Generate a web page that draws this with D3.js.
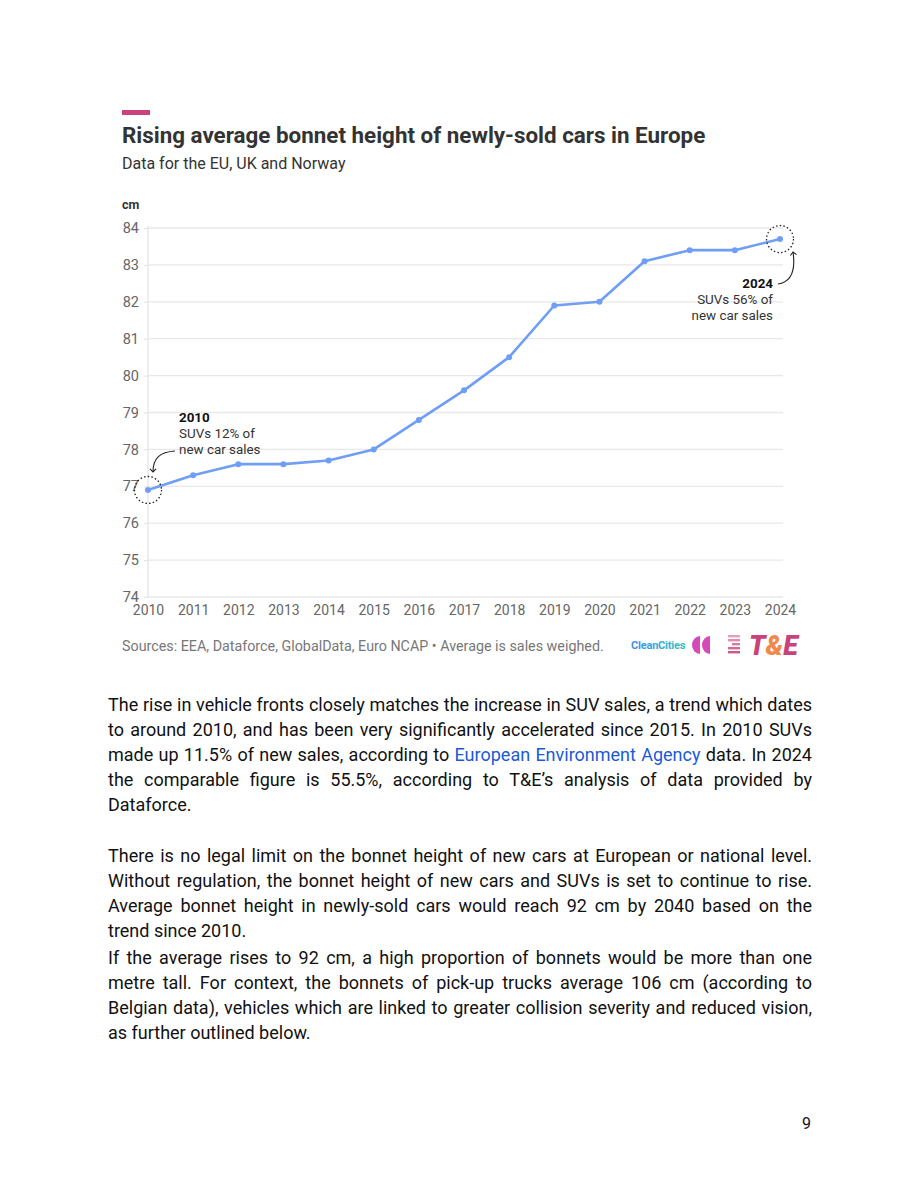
<!DOCTYPE html>
<html><head><meta charset="utf-8">
<script src="https://cdn.jsdelivr.net/npm/d3@7"></script>
<style>
html,body{margin:0;padding:0;background:#fff;}
body{width:920px;height:1191px;position:relative;font-family:Roboto,"Noto Sans",sans-serif;overflow:hidden;}
#chart{position:absolute;left:0;top:0;}
.para{position:absolute;left:108px;width:704px;font-family:Roboto,sans-serif;font-size:18px;line-height:25px;color:#111;}
.ln{white-space:nowrap;text-align:justify;text-align-last:justify;}
.ln.last{text-align-last:left;}
a{color:#1a5ad7;text-decoration:none;}
#pg{position:absolute;left:802px;top:1114px;font-size:16px;color:#111;}
</style></head>
<body>
<svg id="chart" width="920" height="680"></svg>
<div class="para" style="top:692px">
<div class="ln">The rise in vehicle fronts closely matches the increase in SUV sales, a trend which dates</div>
<div class="ln">to around 2010, and has been very significantly accelerated since 2015. In 2010 SUVs</div>
<div class="ln">made up 11.5% of new sales, according to <a>European Environment Agency</a> data. In 2024</div>
<div class="ln">the comparable figure is 55.5%, according to T&amp;E’s analysis of data provided by</div>
<div class="ln last">Dataforce.</div>
</div>
<div class="para" style="top:843px">
<div class="ln">There is no legal limit on the bonnet height of new cars at European or national level.</div>
<div class="ln">Without regulation, the bonnet height of new cars and SUVs is set to continue to rise.</div>
<div class="ln">Average bonnet height in newly-sold cars would reach 92 cm by 2040 based on the</div>
<div class="ln last">trend since 2010.</div>
</div>
<div class="para" style="top:945px">
<div class="ln">If the average rises to 92 cm, a high proportion of bonnets would be more than one</div>
<div class="ln">metre tall. For context, the bonnets of pick-up trucks average 106 cm (according to</div>
<div class="ln">Belgian data), vehicles which are linked to greater collision severity and reduced vision,</div>
<div class="ln last">as further outlined below.</div>
</div>
<div id="pg">9</div>
<script>
const years = [2010,2011,2012,2013,2014,2015,2016,2017,2018,2019,2020,2021,2022,2023,2024];
const heights = [76.9,77.3,77.6,77.6,77.7,78.0,78.8,79.6,80.5,81.9,82.0,83.1,83.4,83.4,83.7];
const yTicks = [74,75,76,77,78,79,80,81,82,83,84];

const svg = d3.select("#chart");
const x = d3.scaleLinear().domain([2010,2024]).range([148,780]);
const y = d3.scaleLinear().domain([74,84]).range([597,228]);

// header
svg.append("rect").attr("x",122).attr("y",110).attr("width",28).attr("height",5).attr("fill","#c8437a");
svg.append("text").attr("x",122).attr("y",143).attr("font-size",22.4).attr("font-weight",700).attr("fill","#333")
  .attr("font-family","Roboto").text("Rising average bonnet height of newly-sold cars in Europe");
svg.append("text").attr("x",122).attr("y",169).attr("font-size",16).attr("fill","#333").attr("font-family","Roboto")
  .text("Data for the EU, UK and Norway");
svg.append("text").attr("x",122).attr("y",209).attr("font-size",12.5).attr("font-weight",700).attr("fill","#333").text("cm");

// grid
svg.append("g").selectAll("line").data(yTicks).join("line")
  .attr("x1",148).attr("x2",783).attr("y1",d=>y(d)).attr("y2",d=>y(d))
  .attr("stroke","#e8e8e8").attr("stroke-width",1.3);
svg.append("line").attr("x1",148).attr("x2",148).attr("y1",226).attr("y2",597).attr("stroke","#e8e8e8").attr("stroke-width",1.5);

// y axis
const yAxis = svg.append("g").attr("transform","translate(148,0)")
  .call(d3.axisLeft(y).tickValues(yTicks).tickSize(4).tickFormat(d3.format("d")));
yAxis.select(".domain").remove();
yAxis.selectAll("line").attr("stroke","#e0e0e0");
yAxis.selectAll("text").attr("font-size",14.5).attr("fill","#666").attr("font-family","Roboto").attr("x",-9);

// x axis
const xAxis = svg.append("g").attr("transform","translate(0,597)")
  .call(d3.axisBottom(x).tickValues(years).tickSize(0).tickFormat(d3.format("d")));
xAxis.select(".domain").remove();
xAxis.selectAll("text").attr("font-size",14).attr("fill","#666").attr("font-family","Roboto").attr("dy","0.71em").attr("y",8);

// line
const col = "#6f9ef7";
svg.append("path").datum(years.map((yr,i)=>[yr,heights[i]]))
  .attr("d", d3.line().x(d=>x(d[0])).y(d=>y(d[1])))
  .attr("fill","none").attr("stroke",col).attr("stroke-width",2.6).attr("stroke-linejoin","round");
svg.append("g").selectAll("circle").data(years).join("circle")
  .attr("cx",d=>x(d)).attr("cy",(d,i)=>y(heights[i])).attr("r",3).attr("fill",col);

// annotations
const first = [years[0], heights[0]], last = [years[years.length-1], heights[heights.length-1]];
[first,last].forEach(p=>{
  svg.append("circle").attr("cx",x(p[0])).attr("cy",y(p[1])).attr("r",13.5)
    .attr("fill","none").attr("stroke","#222").attr("stroke-width",1.3).attr("stroke-dasharray","1.5,2.2");
});
function note(xp, yp, anchor, lines){
  const t = svg.append("text").attr("x",xp).attr("y",yp).attr("font-size",13.4).attr("fill","#333").attr("text-anchor",anchor).attr("font-family","Roboto");
  lines.forEach((l,i)=>t.append("tspan").attr("x",xp).attr("dy",i?16:0).attr("font-weight",i?400:700).attr("fill",i?"#333":"#111").text(l));
}
note(179, 422, "start", ["2010","SUVs 12% of","new car sales"]);
note(773, 288, "end", ["2024","SUVs 56% of","new car sales"]);

svg.append("defs").append("marker").attr("id","ah").attr("viewBox","0 0 10 10").attr("refX",5).attr("refY",5)
  .attr("markerWidth",7).attr("markerHeight",7).attr("orient","auto-start-reverse")
  .append("path").attr("d","M1,1 L5,5 L1,9").attr("fill","none").attr("stroke","#222").attr("stroke-width",1.4);
svg.append("path").attr("d",`M175,451 C160,452 153,458 153,472`).attr("fill","none").attr("stroke","#222").attr("stroke-width",1.1).attr("marker-end","url(#ah)");
svg.append("path").attr("d",`M778,284 C790,282 796,272 793,252`).attr("fill","none").attr("stroke","#222").attr("stroke-width",1.1).attr("marker-end","url(#ah)");

// footer
svg.append("text").attr("x",122).attr("y",651).attr("font-size",14.3).attr("fill","#777").attr("font-family","Roboto")
  .text("Sources: EEA, Dataforce, GlobalData, Euro NCAP • Average is sales weighed.");

// logos
const g1 = svg.append("defs").append("linearGradient").attr("id","cc");
g1.append("stop").attr("offset","0").attr("stop-color","#3a8ee8");
g1.append("stop").attr("offset","1").attr("stop-color","#2cc6c0");
svg.append("text").attr("x",631).attr("y",649).attr("font-size",11).attr("font-weight",700).attr("fill","url(#cc)").attr("font-family","Roboto").attr("letter-spacing",-0.2).text("CleanCities");
svg.append("path").attr("d","M700,636 A8,9 0 0 0 700,654 Z").attr("fill","#d44ab8");
svg.append("path").attr("d","M710,636 A8,9 0 0 0 710,654 Z").attr("fill","#d44ab8");
[0,1,2,3,4].forEach(i=>{
  svg.append("rect").attr("x",728+(i===2?4:0)).attr("y",635+i*4).attr("width",i===2?8:12).attr("height",2.4).attr("fill","#c8437a").attr("opacity",0.5+0.1*i);
});
const te = svg.append("text").attr("x",749).attr("y",655).attr("font-size",27).attr("font-weight",900).attr("font-style","italic").attr("font-family","Roboto").attr("fill","#c8437a");
te.append("tspan").text("T");
te.append("tspan").attr("fill","#f08a4b").text("&");
te.append("tspan").text("E");
</script>
</body></html>
